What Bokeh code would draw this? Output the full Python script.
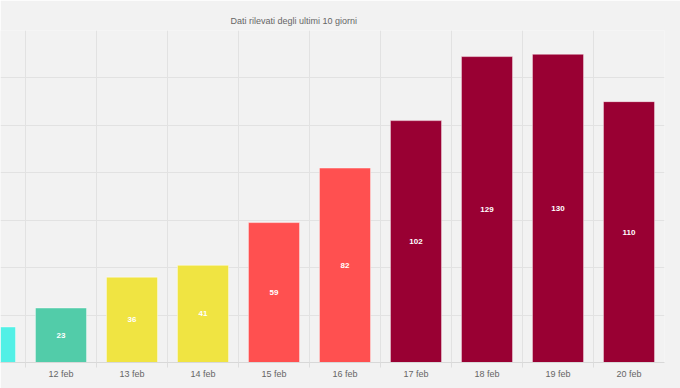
from bokeh.plotting import figure
from bokeh.models import ColumnDataSource, Range1d, FixedTicker, LabelSet
from bokeh.core.properties import value
from bokeh.embed import file_html
from bokeh.resources import INLINE

days = ["11 feb", "12 feb", "13 feb", "14 feb", "15 feb", "16 feb", "17 feb", "18 feb", "19 feb", "20 feb"]
values = [15, 23, 36, 41, 59, 82, 102, 129, 130, 110]
colors = ["#52f0e6", "#52cca9", "#f0e442", "#f0e442", "#ff5050", "#ff5050",
          "#990033", "#990033", "#990033", "#990033"]
y_ticks = [0, 20, 40, 60, 80, 100, 120, 140]
title_text = "Dati rilevati degli ultimi 10 giorni"

idx = list(range(len(days)))
boundaries = [i + 0.5 for i in range(-1, len(days) - 1)]

src = ColumnDataSource(dict(
    x=idx, top=values, color=colors,
    mid=[v / 2 for v in values],
    lbl=[str(v) for v in values],
))

p = figure(width=680, height=388, output_backend="svg", toolbar_location=None,
           x_range=Range1d(0.148, 9.5), y_range=Range1d(y_ticks[0], y_ticks[-1]),
           min_border_left=0, min_border_right=16, min_border_top=30, min_border_bottom=26)

p.background_fill_color = "#f2f2f2"
p.border_fill_color = "#f2f2f2"
p.outline_line_color = None

p.title.text = title_text
p.title.align = "left"
p.title.offset = 230
p.title.text_font = "Liberation Sans"
p.title.text_font_size = "9px"
p.title.text_font_style = "normal"
p.title.text_color = "#666666"
p.title.standoff = 9

p.vbar(x="x", top="top", bottom=0, width=0.72, source=src,
       fill_color="color", line_color="white", line_alpha=0.45, line_width=1)

labels = LabelSet(x="x", y="mid", text="lbl", source=src,
                  text_align="center", text_baseline="middle",
                  text_color="white", text_font=value("Liberation Sans"),
                  text_font_style="bold", text_font_size="8px")
p.add_layout(labels)

p.yaxis.visible = False
p.ygrid.ticker = FixedTicker(ticks=y_ticks)
p.ygrid.grid_line_color = "#e2e2e2"
p.ygrid.grid_line_width = 1

p.xaxis.ticker = FixedTicker(ticks=idx, minor_ticks=boundaries)
p.xaxis.major_label_overrides = {i: d for i, d in zip(idx, days)}
p.xaxis.major_tick_out = 0
p.xaxis.major_tick_in = 0
p.xaxis.minor_tick_out = 5
p.xaxis.minor_tick_in = 0
p.xaxis.minor_tick_line_color = "#dddddd"
p.xaxis.axis_line_color = "#d8d8d8"
p.xaxis.major_label_standoff = 1
p.xaxis.major_label_text_font = "Liberation Sans"
p.xaxis.major_label_text_font_size = "9px"
p.xaxis.major_label_text_color = "#666666"

p.xgrid.ticker = FixedTicker(ticks=boundaries)
p.xgrid.grid_line_color = "#e2e2e2"
p.xgrid.grid_line_width = 1

open("out.html", "w").write(file_html(p, INLINE))
